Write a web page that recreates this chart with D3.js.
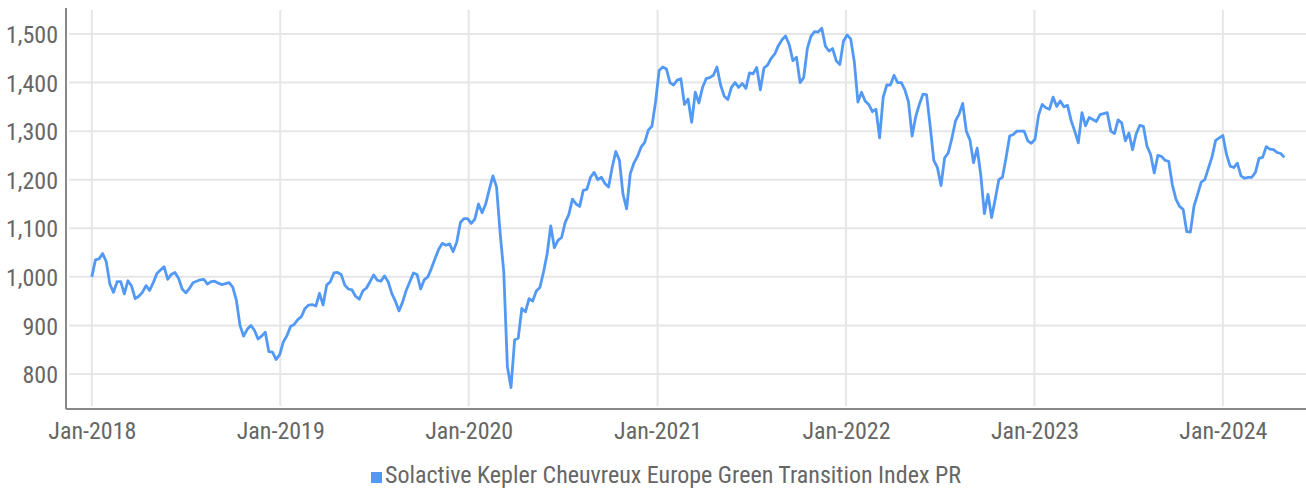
<!DOCTYPE html>
<html>
<head>
<meta charset="utf-8">
<script src="https://cdn.jsdelivr.net/npm/d3@7"></script>
<style>
  html, body { margin: 0; padding: 0; background: #fff; }
  svg text { font-family: 'Liberation Sans Narrow', 'Roboto Condensed', 'DejaVu Sans Condensed', sans-serif; fill: #666; }
</style>
</head>
<body>
<div id="chart"></div>
<script>
// weekly closes, first value on 2018-01-01
const seriesName = 'Solactive Kepler Cheuvreux Europe Green Transition Index PR';
const firstWeek = '2018-01-01';
const values = [
  1000, 1035, 1037, 1048, 1031, 985, 968, 990, 990, 965,
  992, 981, 955, 960, 968, 982, 972, 988, 1007, 1014,
  1021, 995, 1005, 1009, 997, 975, 967, 976, 988, 991,
  994, 995, 985, 990, 991, 987, 984, 986, 988, 979,
  952, 900, 878, 892, 900, 890, 872, 878, 886, 846,
  845, 830, 840, 866, 879, 898, 902, 912, 918, 935,
  942, 943, 940, 966, 942, 983, 990, 1008, 1009, 1005,
  983, 975, 973, 960, 954, 971, 977, 990, 1004, 993,
  991, 1002, 990, 966, 950, 930, 948, 972, 990, 1008,
  1005, 975, 994, 1000, 1018, 1038, 1057, 1069, 1065, 1068,
  1052, 1072, 1112, 1120, 1120, 1110, 1119, 1150, 1132, 1150,
  1180, 1208, 1185, 1090, 1010, 815, 772, 870, 874, 935,
  928, 955, 950, 971, 978, 1010, 1047, 1105, 1060, 1075,
  1081, 1112, 1128, 1160, 1150, 1145, 1178, 1180, 1205, 1215,
  1200, 1205, 1192, 1185, 1225, 1258, 1240, 1170, 1140, 1212,
  1234, 1248, 1267, 1277, 1302, 1310, 1360, 1425, 1432, 1428,
  1400, 1395, 1405, 1408, 1355, 1366, 1318, 1380, 1358, 1390,
  1408, 1410, 1415, 1432, 1395, 1372, 1365, 1390, 1400, 1390,
  1398, 1388, 1420, 1418, 1431, 1385, 1430, 1436, 1450, 1459,
  1476, 1488, 1496, 1478, 1445, 1452, 1400, 1410, 1470, 1495,
  1505, 1504, 1512, 1475, 1465, 1470, 1445, 1437, 1485, 1498,
  1490, 1443, 1360, 1380, 1362, 1355, 1340, 1345, 1286, 1370,
  1395, 1395, 1415, 1400, 1400, 1385, 1360, 1290, 1330, 1355,
  1376, 1375, 1310, 1240, 1225, 1188, 1245, 1255, 1285, 1321,
  1335, 1357, 1300, 1282, 1235, 1265, 1210, 1130, 1170, 1122,
  1160, 1200, 1205, 1245, 1290, 1293, 1300, 1300, 1300, 1280,
  1275, 1283, 1333, 1355, 1348, 1345, 1370, 1351, 1362, 1350,
  1353, 1322, 1300, 1276, 1338, 1311, 1328, 1324, 1320, 1334,
  1336, 1338, 1300, 1295, 1323, 1317, 1280, 1296, 1262, 1294,
  1312, 1310, 1269, 1252, 1214, 1250, 1248, 1240, 1238, 1190,
  1160, 1145, 1139, 1093, 1092, 1145, 1170, 1195, 1200, 1224,
  1247, 1281, 1286, 1291, 1252, 1228, 1225, 1234, 1208, 1203,
  1205, 1205, 1215, 1244, 1246, 1268, 1263, 1262, 1256, 1254,
  1246
];
const yTicks = [800, 900, 1000, 1100, 1200, 1300, 1400, 1500];
const xTickYears = [2018, 2019, 2020, 2021, 2022, 2023, 2024];

const W = 1306, H = 490;
const plot = { left: 66, right: 1306, top: 8, bottom: 408 };
const lineColor = '#5299f5';
const gridColor = '#e6e6e6';
const axisColor = '#888';

const start = d3.timeParse('%Y-%m-%d')(firstWeek);
const data = values.map((v, i) => ({ date: d3.timeDay.offset(start, 7 * i), value: v }));

const svg = d3.select('#chart').append('svg')
  .attr('width', W).attr('height', H);

const x = d3.scaleTime()
  .domain([new Date(2017, 10, 12), new Date(2024, 5, 10)])
  .range([plot.left, plot.right]);
const y = d3.scaleLinear().domain([730, 1553.5]).range([plot.bottom, plot.top]);

const xTicks = xTickYears.map(yr => new Date(yr, 0, 1));

// grid
svg.append('g').selectAll('line')
  .data(yTicks).enter().append('line')
  .attr('x1', plot.left + 3).attr('x2', plot.right)
  .attr('y1', d => y(d)).attr('y2', d => y(d))
  .attr('stroke', gridColor).attr('stroke-width', 2);

svg.append('g').selectAll('line')
  .data(xTicks).enter().append('line')
  .attr('x1', d => x(d)).attr('x2', d => x(d))
  .attr('y1', plot.top + 2).attr('y2', plot.bottom - 2)
  .attr('stroke', gridColor).attr('stroke-width', 2);

// axes
const yAxis = svg.append('g').attr('transform', `translate(${plot.left},0)`)
  .call(d3.axisLeft(y).tickValues(yTicks).tickFormat(d3.format(',')).tickSize(0).tickPadding(8));
yAxis.select('.domain').remove();
yAxis.selectAll('text').attr('font-size', '24px').attr('fill', '#666')
  .attr('font-family', null).attr('dy', '0.36em');

const xAxis = svg.append('g').attr('transform', `translate(0,${plot.bottom})`)
  .call(d3.axisBottom(x).tickValues(xTicks).tickFormat(d3.timeFormat('%b-%Y')).tickSize(0).tickPadding(14));
xAxis.select('.domain').remove();
xAxis.selectAll('text').attr('font-size', '24px').attr('fill', '#666')
  .attr('font-family', null).attr('dy', '0.71em');

svg.append('line')
  .attr('x1', plot.left).attr('x2', plot.left).attr('y1', plot.top).attr('y2', plot.bottom + 1)
  .attr('stroke', axisColor).attr('stroke-width', 2);
svg.append('line')
  .attr('x1', plot.left).attr('x2', plot.right).attr('y1', plot.bottom + 1).attr('y2', plot.bottom + 1)
  .attr('stroke', axisColor).attr('stroke-width', 2);

// series
const line = d3.line().x(d => x(d.date)).y(d => y(d.value));
svg.append('path')
  .datum(data)
  .attr('fill', 'none')
  .attr('stroke', lineColor)
  .attr('stroke-width', 2.8)
  .attr('stroke-linejoin', 'round')
  .attr('d', line);

// legend
const legend = svg.append('g');
legend.append('rect')
  .attr('x', 0).attr('y', -11).attr('width', 11).attr('height', 11)
  .attr('fill', lineColor);
const lt = legend.append('text')
  .attr('x', 14).attr('y', 0)
  .attr('font-size', '24px')
  .text(seriesName);
const lw = 14 + lt.node().getComputedTextLength();
legend.attr('transform', `translate(${666 - lw / 2},483)`);
</script>
</body>
</html>
